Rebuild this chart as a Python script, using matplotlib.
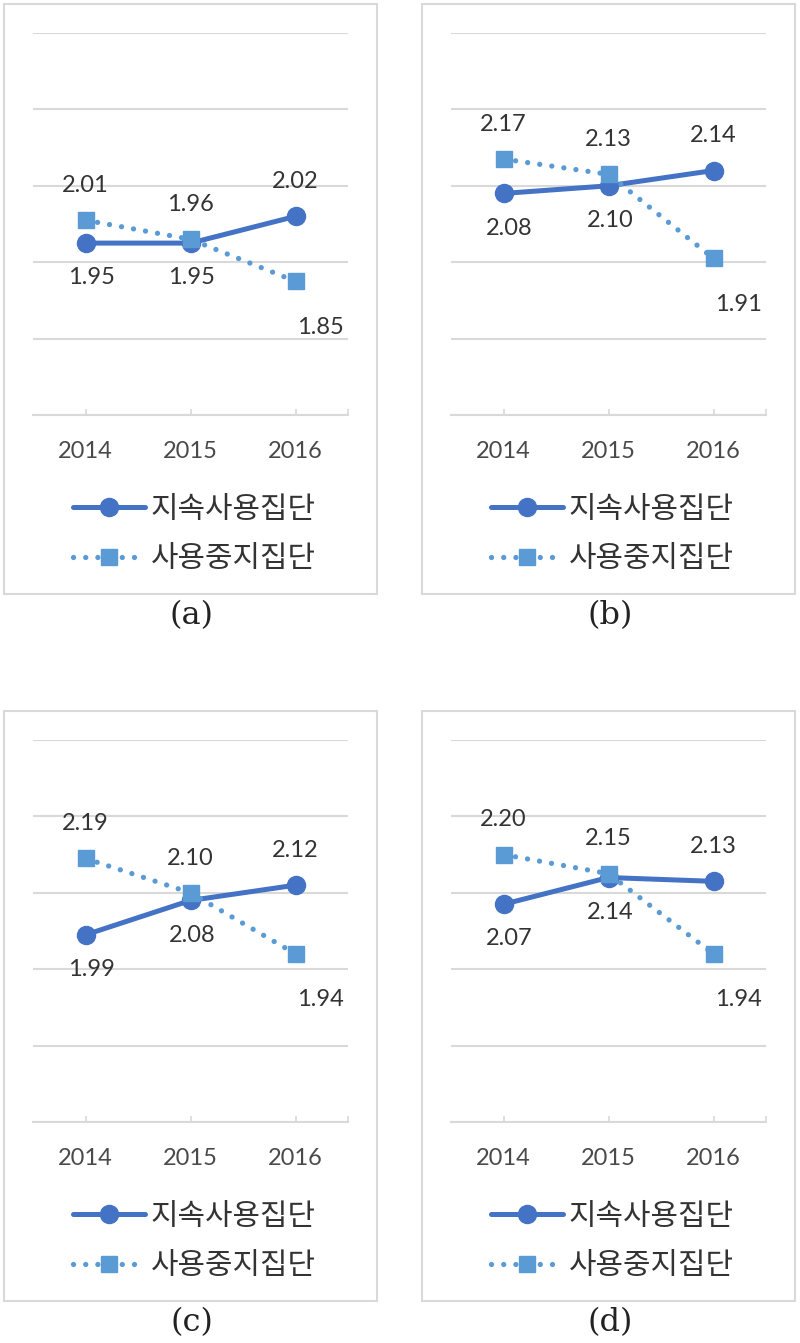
import numpy as np
import matplotlib
matplotlib.use("Agg")
import matplotlib.pyplot as plt
from matplotlib.patches import Rectangle

# data
years = ["2014", "2015", "2016"]
series_names = ["지속사용집단", "사용중지집단"]
panel_tags = ["(a)", "(b)", "(c)", "(d)"]
keep_a = [1.95, 1.95, 2.02]
stop_a = [2.01, 1.96, 1.85]
keep_b = [2.08, 2.10, 2.14]
stop_b = [2.17, 2.13, 1.91]
keep_c = [1.99, 2.08, 2.12]
stop_c = [2.19, 2.10, 1.94]
keep_d = [2.07, 2.14, 2.13]
stop_d = [2.20, 2.15, 1.94]
y_min, y_max, y_step = 1.5, 2.5, 0.2

W, H = 800, 1343
KEEP_COLOR = "#4472C4"
STOP_COLOR = "#5B9BD5"
GRID_COLOR = "#D9D9D9"
TEXT_COLOR = "#333333"
TICK_COLOR = "#4a4a4a"


def fig_rect(x0, y0, x1, y1):
    return [x0 / W, 1 - y1 / H, (x1 - x0) / W, (y1 - y0) / H]


# label offsets in points (keep series: below, below, above; stop: above, above, right-below)
keep_off = [(4, -25), (1, -25), (0, 25)]
stop_off = [(0, 25), (0, 25), (18, -33)]


def draw_panel(fig, dx, dy, keep, stop, tag):
    # outer box
    fig.patches.append(Rectangle(((4 + dx) / W, 1 - (594 + dy) / H), 373 / W, 590 / H,
                                 transform=fig.transFigure, fill=False,
                                 edgecolor=GRID_COLOR, linewidth=1.5))
    ax = fig.add_axes(fig_rect(33 + dx, 33 + dy, 348 + dx, 415 + dy))
    x = np.arange(len(years))
    ax.plot(x, keep, "-", color=KEEP_COLOR, lw=3.6, marker="o", ms=13,
            label=series_names[0], solid_capstyle="round", zorder=3)
    ax.plot(x, stop, color=STOP_COLOR, lw=3.8, linestyle=(0, (0.01, 2.3)),
            dash_capstyle="round", marker="s", ms=11, label=series_names[1], zorder=4)

    for i in range(len(years)):
        ax.annotate(f"{keep[i]:.2f}", (x[i], keep[i]), xytext=keep_off[i],
                    textcoords="offset points", ha="center", va="center",
                    fontsize=17, family="Lato", color=TEXT_COLOR)
        ax.annotate(f"{stop[i]:.2f}", (x[i], stop[i]), xytext=stop_off[i],
                    textcoords="offset points", ha="center", va="center",
                    fontsize=17, family="Lato", color=TEXT_COLOR)

    ax.set_xlim(-0.5, 2.5)
    ax.set_ylim(y_min, y_max)
    ax.set_yticks(np.arange(y_min, y_max + 0.01, y_step))
    ax.yaxis.grid(True, color=GRID_COLOR, lw=1.5)
    ax.set_axisbelow(True)
    ax.tick_params(axis="y", left=False, labelleft=False)
    ax.set_xticks(x)
    ax.set_xticklabels(years, fontsize=17, family="Lato", color=TICK_COLOR)
    ax.set_xticks([2.5], minor=True)
    ax.tick_params(axis="x", which="both", direction="in", length=4,
                   color=GRID_COLOR, width=1.2, pad=19)
    for s in ["top", "left", "right"]:
        ax.spines[s].set_visible(False)
    ax.spines["bottom"].set_color(GRID_COLOR)
    ax.spines["bottom"].set_linewidth(1.5)
    ax.patch.set_alpha(0)

    leg = ax.legend(loc="center left", bbox_to_anchor=((73 + dx) / W, 1 - (534 + dy) / H),
                    bbox_transform=fig.transFigure, frameon=False, borderpad=0,
                    borderaxespad=0, handlelength=2.4, handletextpad=0.2,
                    labelspacing=0.62, numpoints=1,
                    prop={"family": "Noto Sans CJK KR", "size": 21.5})
    for t in leg.get_texts():
        t.set_color(TEXT_COLOR)

    fig.text((192 + dx) / W, 1 - (616 + dy) / H, tag, ha="center", va="center",
             fontsize=23, family="DejaVu Serif", color="#222222")


def main():
    fig = plt.figure(figsize=(W / 100, H / 100), dpi=100)
    panels = [(keep_a, stop_a), (keep_b, stop_b), (keep_c, stop_c), (keep_d, stop_d)]
    offsets = [(0, 0), (418, 0), (0, 707), (418, 707)]
    for (keep, stop), (dx, dy), tag in zip(panels, offsets, panel_tags):
        draw_panel(fig, dx, dy, keep, stop, tag)
    fig.savefig("out.png", dpi=100)


if __name__ == "__main__":
    main()
